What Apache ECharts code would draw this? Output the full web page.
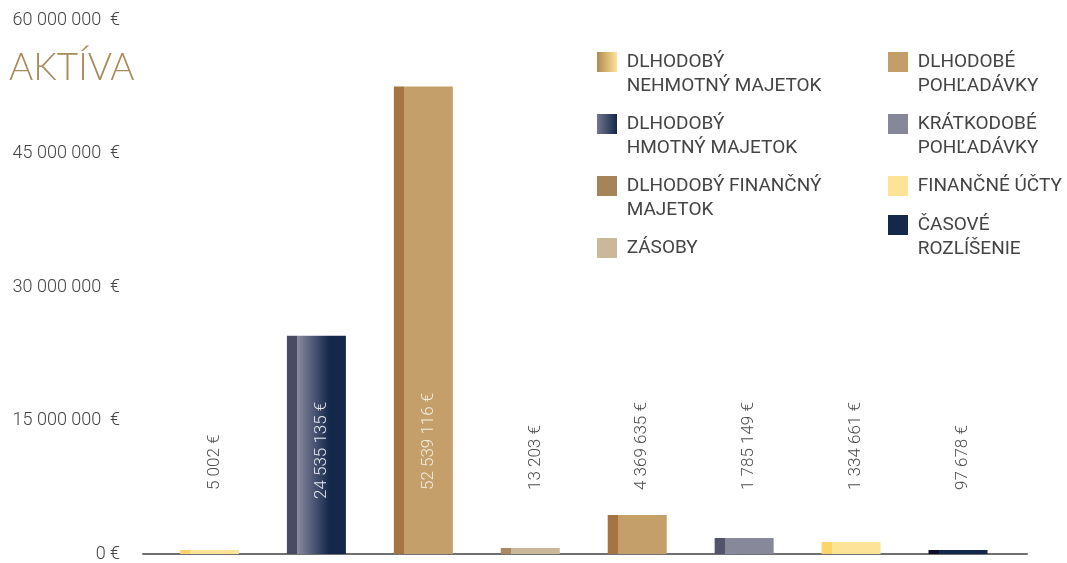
<!DOCTYPE html>
<html>
<head>
<meta charset="utf-8">
<script src="https://cdn.jsdelivr.net/npm/echarts@6/dist/echarts.min.js"></script>
<style>
  html, body { margin: 0; padding: 0; background: #fff; }
  #chart { width: 1067px; height: 563px; }
</style>
</head>
<body>
<div id="chart"></div>
<script>
// data
const categories = [
  'DLHODOBÝ\nNEHMOTNÝ MAJETOK',
  'DLHODOBÝ\nHMOTNÝ MAJETOK',
  'DLHODOBÝ FINANČNÝ\nMAJETOK',
  'ZÁSOBY',
  'DLHODOBÉ\nPOHĽADÁVKY',
  'KRÁTKODOBÉ\nPOHĽADÁVKY',
  'FINANČNÉ ÚČTY',
  'ČASOVÉ\nROZLÍŠENIE'
]
const values = [5002, 24535135, 52539116, 13203, 4369635, 1785149, 1334661, 97678]
const yTicks = [0, 15000000, 30000000, 45000000, 60000000]

// looks
const stripColors = ['#f9d46b', '#4a4a62', '#a47543', '#a98a63', '#a47543', '#53536b', '#fbd46a', '#0e0e26']
const faceColors = ['#fde39a', null, '#c59f69', '#cbb89a', '#c59f69', '#878899', '#fde398', '#13284b']
const legendColors = ['#b08a4f', '#75758f', '#a58457', '#cbb89a', '#c49e68', '#868799', '#fde398', '#13284b']
const minHeights = [4, 0, 0, 6, 0, 0, 0, 4]
const labelColors = ['#4d4d4d', '#e6e6ee', '#f2ece0', '#4d4d4d', '#4d4d4d', '#4d4d4d', '#4d4d4d', '#4d4d4d']
const legendPos = [[597, 52], [597, 114], [597, 176], [597, 238], [888, 52], [888, 114], [888, 176], [888, 215]]

const FONT = 'Roboto'
const S = 10 / 59

const fmt = (v) => String(v).replace(/\B(?=(\d{3})+(?!\d))/g, ' ')

const barColor = (i) => {
  let stops
  if (i === 1) {
    stops = [
      { offset: 0, color: stripColors[i] }, { offset: S, color: stripColors[i] },
      { offset: S, color: '#8b8aa0' }, { offset: 0.72, color: '#13284b' }, { offset: 1, color: '#13284b' }
    ]
  } else {
    stops = [
      { offset: 0, color: stripColors[i] }, { offset: S, color: stripColors[i] },
      { offset: S, color: faceColors[i] }, { offset: 1, color: faceColors[i] }
    ]
  }
  return new echarts.graphic.LinearGradient(0, 0, 1, 0, stops)
}

const legendIcon = (i) => {
  if (i === 0) return new echarts.graphic.LinearGradient(0, 0, 1, 0, [{ offset: 0, color: '#b08a4f' }, { offset: 1, color: '#fde398' }])
  if (i === 1) return new echarts.graphic.LinearGradient(0, 0, 1, 0, [{ offset: 0, color: '#75758f' }, { offset: 1, color: '#13284b' }])
  return legendColors[i]
}

const charts = echarts.init(document.getElementById('chart'))
charts.setOption({
  animation: false,
  title: {
    text: 'AKTÍVA',
    left: 9,
    top: 50,
    padding: 0,
    textStyle: { fontFamily: 'Lato', fontWeight: 300, fontSize: 37, color: '#a88b5a' }
  },
  legend: categories.map((name, i) => {
    const lines = name.split('\n').length
    return {
      left: legendPos[i][0],
      top: legendPos[i][1] - (lines === 2 ? 26 : 2),
      padding: 0,
      itemWidth: 20,
      itemHeight: 20,
      itemGap: 0,
      icon: 'rect',
      selectedMode: false,
      data: [{ name: name, itemStyle: { color: legendIcon(i) } }],
      // empty first line keeps the icon level with the first text line
      formatter: (n) => {
        const t = n.split('\n').map(s => ' ' + s).join('\n')
        return lines === 2 ? ' \n' + t : t
      },
      textStyle: {
        fontFamily: FONT, fontWeight: 400, fontSize: 19, color: '#444',
        lineHeight: 24
      }
    }
  }),
  grid: { left: 143, right: 40, top: 20, bottom: 7 },
  xAxis: {
    type: 'value',
    min: -0.6215,
    max: 7.645,
    axisLine: { show: true, lineStyle: { color: '#707070', width: 2 } },
    axisTick: { show: false },
    axisLabel: { show: false },
    splitLine: { show: false }
  },
  yAxis: {
    type: 'value',
    min: yTicks[0],
    max: yTicks[yTicks.length - 1],
    interval: yTicks[1] - yTicks[0],
    axisLine: { show: false },
    axisTick: { show: false },
    splitLine: { show: false },
    axisLabel: {
      margin: 23,
      fontFamily: FONT, fontWeight: 300, fontSize: 18, color: '#444',
      formatter: (v) => v === 0 ? '0 €' : fmt(v) + '  €'
    }
  },
  series: categories.map((name, i) => ({
    name: name,
    type: 'bar',
    stack: 'all',
    barWidth: 59,
    barMinHeight: minHeights[i],
    data: [[i, values[i]]],
    itemStyle: { color: barColor(i) },
    label: {
      show: true,
      position: 'insideBottom',
      distance: i === 1 ? 55 : 64,
      rotate: 90,
      align: 'left',
      verticalAlign: 'middle',
      offset: [0, 5],
      fontFamily: FONT, fontWeight: 300, fontSize: 17,
      color: labelColors[i],
      formatter: () => fmt(values[i]) + ' €'
    }
  }))
})
</script>
</body>
</html>
